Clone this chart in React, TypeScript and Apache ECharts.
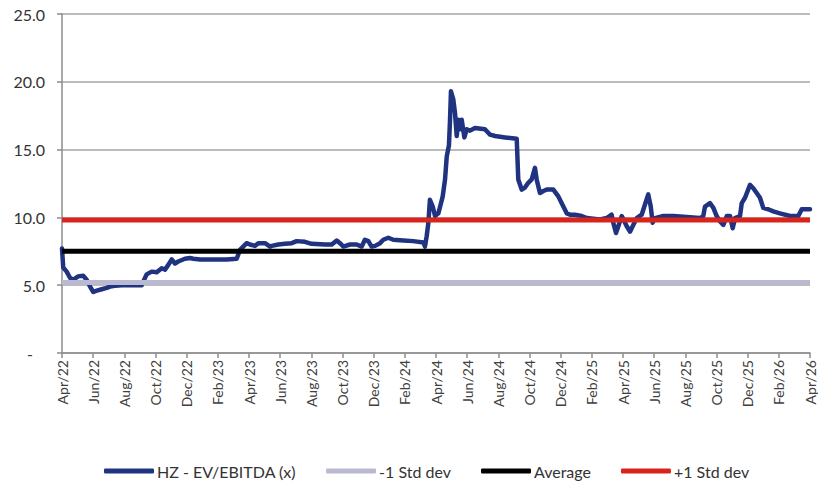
import React, { useEffect, useRef } from "react";
import * as echarts from "echarts";

// Month offsets from Apr/22 (0) to Apr/26 (48)
const tickLabels = [
  "Apr/22", "Jun/22", "Aug/22", "Oct/22", "Dec/22",
  "Feb/23", "Apr/23", "Jun/23", "Aug/23", "Oct/23", "Dec/23",
  "Feb/24", "Apr/24", "Jun/24", "Aug/24", "Oct/24", "Dec/24",
  "Feb/25", "Apr/25", "Jun/25", "Aug/25", "Oct/25", "Dec/25",
  "Feb/26", "Apr/26",
];

const hzMonths = [
  0, 0.08, 0.3, 0.51, 0.71, 1.04, 1.36, 1.58, 1.8, 2.01, 2.23, 2.55, 2.87, 3.08, 3.4, 3.83, 5.11, 5.43, 5.75, 6.08, 6.4,
  6.61, 6.82, 7.04, 7.25, 7.46, 7.89, 8.21, 8.43, 8.86, 10.57, 11.21, 11.42, 11.85, 12.06, 12.39, 12.6, 13.03,
  13.35, 13.46, 13.88, 14.31, 14.74, 15.06, 15.59, 16.02, 16.88, 17.31, 17.63, 17.84, 18.05, 18.48, 18.91, 19.23,
  19.44, 19.66, 19.87, 20.09, 20.41, 20.62, 20.94, 21.26, 21.9, 22.54, 23.19, 23.29, 23.4, 23.51, 23.61, 23.79,
  23.94, 24.15, 24.3, 24.43, 24.58, 24.69, 24.83, 24.9, 24.96, 25.11, 25.22, 25.33, 25.43, 25.54, 25.65, 25.82,
  25.97, 26.18, 26.5, 27.14, 27.47, 27.79, 28.43, 29.18, 29.28, 29.5, 29.71, 29.92, 30.14, 30.35, 30.46, 30.67,
  30.89, 31.1, 31.53, 31.85, 32.17, 32.39, 32.6, 32.92, 33.35, 33.67, 34.52, 34.95, 35.27, 35.38, 35.55, 35.7,
  35.92, 36.24, 36.45, 36.62, 36.88, 37.2, 37.41, 37.62, 37.78, 37.9, 38.05, 38.59, 39.23, 40.94, 41.15, 41.26,
  41.58, 41.8, 42.01, 42.23, 42.44, 42.66, 42.87, 43.04, 43.19, 43.51, 43.62, 43.83, 44.15, 44.36, 44.58, 44.79,
  45.0, 45.32, 45.64, 46.07, 46.72, 47.25, 47.47, 48.0,
];

const hzValues = [
  7.7, 6.3, 6.0, 5.55, 5.4, 5.65, 5.7, 5.4, 4.9, 4.5, 4.6, 4.7, 4.8, 4.9, 4.95, 5.0, 5.0, 5.8, 6.0, 5.95, 6.25,
  6.15, 6.5, 6.9, 6.6, 6.75, 6.95, 7.0, 6.95, 6.9, 6.9, 6.95, 7.6, 8.1, 8.0, 7.9, 8.1, 8.1,
  7.85, 7.9, 8.0, 8.05, 8.1, 8.25, 8.2, 8.05, 8.0, 8.0, 8.3, 8.1, 7.85, 8.0, 8.0, 7.85,
  8.35, 8.25, 7.85, 7.9, 8.1, 8.35, 8.5, 8.35, 8.3, 8.25, 8.15, 7.85, 8.6, 9.6, 11.3, 10.8,
  10.1, 10.3, 10.95, 11.55, 12.8, 14.5, 15.3, 17.2, 19.3, 18.7, 17.7, 16.0, 17.2, 16.5, 17.2, 15.9,
  16.5, 16.4, 16.6, 16.5, 16.1, 16.0, 15.9, 15.8, 12.8, 12.05, 12.2, 12.55, 12.8, 13.65, 12.8, 11.8,
  11.95, 12.05, 12.05, 11.55, 10.8, 10.3, 10.2, 10.2, 10.1, 9.95, 9.85, 9.95, 10.2, 9.6, 8.85, 9.35,
  10.1, 9.35, 8.95, 9.35, 9.95, 10.2, 10.95, 11.7, 10.8, 9.6, 9.95, 10.1, 10.1, 9.95, 10.1, 10.8,
  11.05, 10.7, 10.1, 9.7, 9.45, 10.1, 10.1, 9.2, 9.95, 10.1, 11.05, 11.45, 12.4, 12.15, 11.8, 11.45,
  10.7, 10.6, 10.45, 10.3, 10.1, 10.1, 10.6, 10.6,
];

const stdMinus = 5.2;
const average = 7.5;
const stdPlus = 9.8;

const seriesNames = ["HZ - EV/EBITDA (x)", "-1 Std dev", "Average", "+1 Std dev"];
const seriesColors = ["#1f3381", "#b9b9d1", "#000000", "#d9241c"];

const FONT = "Lato, 'Noto Sans', sans-serif";

export default function App() {
  const ref = useRef<HTMLDivElement>(null);

  useEffect(() => {
    if (!ref.current) return;
    const chart = echarts.init(ref.current, undefined, { renderer: "svg" });
    const first = 0;
    const last = (tickLabels.length - 1) * 2;
    const flat = (v: number) => [[first, v], [last, v]];

    chart.setOption({
      animation: false,
      backgroundColor: "#ffffff",
      grid: { left: 62, right: 8, top: 14, bottom: 130, containLabel: false },
      xAxis: {
        type: "value",
        min: 0,
        max: last,
        interval: 2,
        axisLine: { show: true, lineStyle: { color: "#8c8c8c", width: 1.5 } },
        axisTick: { show: true, length: 5, lineStyle: { color: "#8c8c8c", width: 1.5 } },
        splitLine: { show: false },
        axisLabel: {
          rotate: 90,
          margin: 7,
          color: "#404040",
          fontFamily: FONT,
          fontSize: 14,
          formatter: (v: number) => tickLabels[Math.round(v / 2)] ?? "",
        },
      },
      yAxis: {
        type: "value",
        min: 0,
        max: 25,
        interval: 5,
        axisLine: { show: true, lineStyle: { color: "#8c8c8c", width: 1.5 } },
        axisTick: { show: true, length: 5, lineStyle: { color: "#8c8c8c", width: 1.5 } },
        splitLine: { show: true, lineStyle: { color: "#a6a6a6", width: 1.5 } },
        axisLabel: {
          margin: 17,
          color: "#333333",
          fontFamily: FONT,
          fontSize: 16,
          formatter: (v: number) => (v === 0 ? "{d|-}" : v.toFixed(1)),
          rich: { d: { fontFamily: FONT, fontSize: 16, color: "#333333", padding: [0, 12, 0, 0] } },
        },
      },
      legend: {
        left: 99,
        top: 458,
        icon: "roundRect",
        itemWidth: 50,
        itemHeight: 5,
        itemGap: 30,
        textStyle: { fontFamily: FONT, fontSize: 16, color: "#333333", padding: [0, 0, 0, -2] },
        data: seriesNames,
      },
      series: [
        {
          name: seriesNames[0],
          type: "line",
          data: hzMonths.map((m, i) => [m, hzValues[i]]),
          symbol: "none",
          lineStyle: { color: seriesColors[0], width: 4.5, join: "round", cap: "round" },
          itemStyle: { color: seriesColors[0] },
        },
        {
          name: seriesNames[1],
          type: "line",
          data: flat(stdMinus),
          symbol: "none",
          lineStyle: { color: seriesColors[1], width: 5 },
          itemStyle: { color: seriesColors[1] },
        },
        {
          name: seriesNames[2],
          type: "line",
          data: flat(average),
          symbol: "none",
          lineStyle: { color: seriesColors[2], width: 5 },
          itemStyle: { color: seriesColors[2] },
        },
        {
          name: seriesNames[3],
          type: "line",
          data: flat(stdPlus),
          symbol: "none",
          lineStyle: { color: seriesColors[3], width: 5 },
          itemStyle: { color: seriesColors[3] },
        },
      ],
    });

    return () => chart.dispose();
  }, []);

  return <div ref={ref} style={{ width: 818, height: 483, position: "absolute", left: 0, top: 0 }} />;
}
